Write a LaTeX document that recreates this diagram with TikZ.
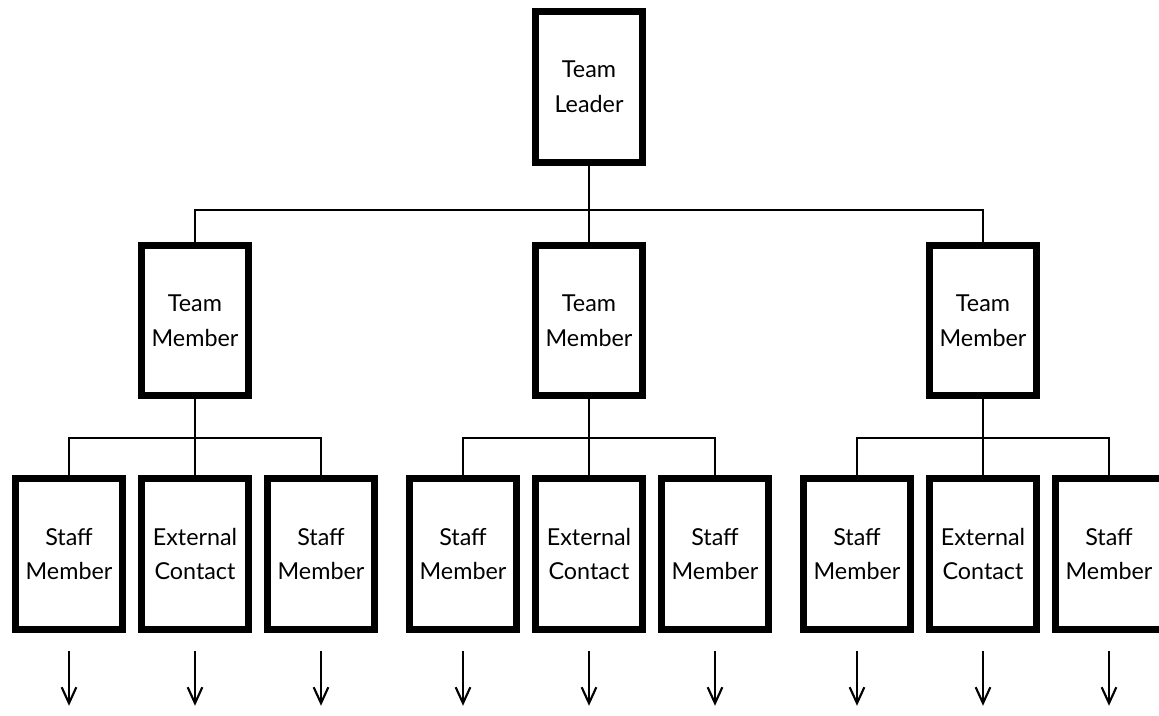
\documentclass[tikz,border=0pt]{standalone}
\usepackage{fontspec}
\setmainfont{Lato}
\usetikzlibrary{positioning,arrows.meta}

\begin{document}
\begin{tikzpicture}[x=0.75pt,y=0.75pt,
  level distance=175.1pt,
  every node/.style={shape=rectangle,draw,line width=5.25pt,align=center,
    minimum width=80pt,minimum height=113pt,inner sep=0pt,
    font=\fontsize{17.5}{26}\selectfont},
  edge from parent/.style={draw,line width=1.6pt},
  bus/.style={edge from parent path={(\tikzparentnode.south) -- ++(0,-#1) -| (\tikzchildnode.north)}},
  level 1/.style={sibling distance=295.5pt,bus=44},
  level 2/.style={sibling distance=94.5pt,bus=39},
  down/.style={line width=1.6pt,-{Straight Barb[length=12pt,width=11pt]}}
]
\useasboundingbox (0,0) rectangle (1159,-715);
\node (lead) at (589,-87) {Team\\Leader}
   child {node (m1) {Team\\Member}
     child {node (s1a) {Staff\\Member}}
     child {node (s1b) {External\\Contact}}
     child {node (s1c) {Staff\\Member}}
   }
   child {node (m2) {Team\\Member}
     child {node (s2a) {Staff\\Member}}
     child {node (s2b) {External\\Contact}}
     child {node (s2c) {Staff\\Member}}
   }
   child {node (m3) {Team\\Member}
     child {node (s3a) {Staff\\Member}}
     child {node (s3b) {External\\Contact}}
     child {node (s3c) {Staff\\Member}}
   };
% open-ended arrows below the staff row
\foreach \s in {s1a,s1b,s1c,s2a,s2b,s2c,s3a,s3b,s3c} {
  \path (\s.south) ++(0,-18) coordinate (\s-top) ++(0,-55) coordinate (\s-end);
  \draw[down] (\s-top) -- (\s-end);
}
\end{tikzpicture}
\end{document}
